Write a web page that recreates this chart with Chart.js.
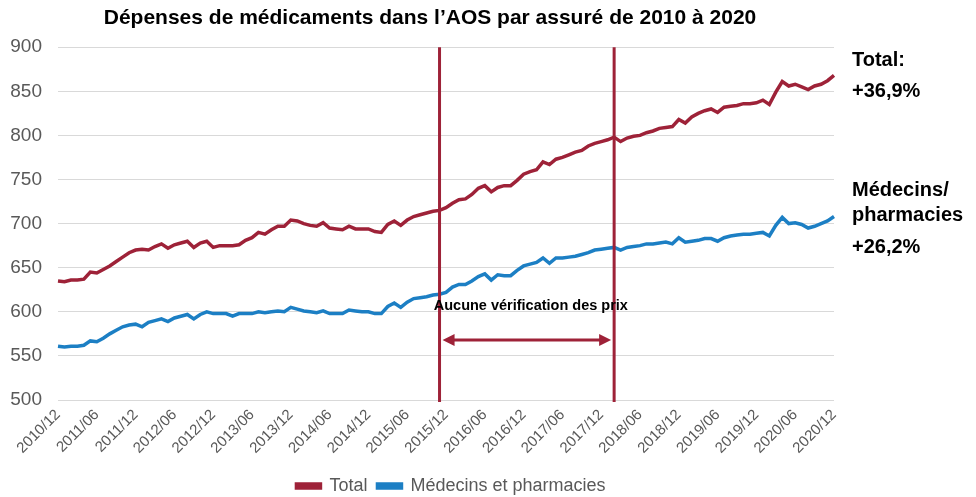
<!DOCTYPE html>
<html>
<head>
<meta charset="utf-8">
<script src="https://cdn.jsdelivr.net/npm/chart.js@4.4.0/dist/chart.umd.min.js"></script>
<style>
    html, body { margin: 0; padding: 0; background: #fff; }
    #wrap { width: 976px; height: 497px; position: relative; }
</style>
</head>
<body>
<div id="wrap"><canvas id="drugChart"></canvas></div>
<script>
// Monthly categories, 2010/12 .. 2020/12
var months = [];
for (var yr = 2010; yr <= 2020; yr++) {
    for (var mo = 1; mo <= 12; mo++) {
        if (yr === 2010 && mo < 12) continue;
        months.push(yr + '/' + (mo < 10 ? '0' + mo : mo));
    }
}

// Only these labels are printed on the x axis
var tickLabels = ['2010/12', '2011/06', '2011/12', '2012/06', '2012/12', '2013/06', '2013/12',
    '2014/06', '2014/12', '2015/06', '2015/12', '2016/06', '2016/12', '2017/06', '2017/12',
    '2018/06', '2018/12', '2019/06', '2019/12', '2020/06', '2020/12'];

// Expenses per insured person (CHF)
var totalValues = [
    635, 634, 636, 636, 637, 645, 644, 648, 652, 657,
    662, 667, 670, 671, 670, 674, 677, 672, 676, 678,
    680, 673, 678, 680, 673, 675, 675, 675, 676, 681,
    684, 690, 688, 693, 697, 697, 704, 703, 700, 698,
    697, 701, 695, 694, 693, 697, 694, 694, 694, 691,
    690, 699, 703, 698, 704, 708, 710, 712, 714, 715,
    718, 723, 727, 728, 733, 740, 743, 736, 741, 743,
    743, 749, 756, 759, 761, 770, 767, 773, 775, 778,
    781, 783, 788, 791, 793, 795, 798, 793, 797, 799,
    800, 803, 805, 808, 809, 810, 818, 814, 821, 825,
    828, 830, 826, 832, 833, 834, 836, 836, 837, 840,
    835, 849, 861, 856, 858, 855, 852, 856, 858, 862,
    868
];
var medPharmValues = [
    561, 560, 561, 561, 562, 567, 566, 570, 575, 579,
    583, 585, 586, 583, 588, 590, 592, 589, 593, 595,
    597, 592, 597, 600, 598, 598, 598, 595, 598, 598,
    598, 600, 599, 600, 601, 600, 605, 603, 601, 600,
    599, 601, 598, 598, 598, 602, 601, 600, 600, 598,
    598, 606, 610, 605, 611, 615, 616, 617, 619, 620,
    622, 628, 631, 631, 635, 640, 643, 636, 642, 641,
    641, 647, 652, 654, 656, 661, 655, 661, 661, 662,
    663, 665, 667, 670, 671, 672, 673, 670, 673, 674,
    675, 677, 677, 678, 679, 677, 684, 679, 680, 681,
    683, 683, 680, 684, 686, 687, 688, 688, 689, 690,
    686, 698, 707, 700, 701, 699, 695, 697, 700, 703,
    708
];

// Period without price checks
var checkStart = '2015/11';
var checkEnd = '2018/02';
var arrowLevel = 568;
var noteLevel = 607;

var redColor = '#9e2238';
var blueColor = '#1c7fc4';
var fontFamily = "'Liberation Sans', Arial, sans-serif";

Chart.defaults.font.family = fontFamily;

// vertical markers, arrow and side notes
var notesPlugin = {
    id: 'notes',
    afterLayout: function (chart) {
        chart.legend.left += 30; chart.legend.right += 30;
        chart.legend.top += 8; chart.legend.bottom += 8;
        chart.titleBlock.left += 9; chart.titleBlock.right += 9;
    },
    afterDatasetsDraw: function (chart) {
        var ctx = chart.ctx, xs = chart.scales.x, ys = chart.scales.y, area = chart.chartArea;
        var x1 = xs.getPixelForValue(months.indexOf(checkStart));
        var x2 = xs.getPixelForValue(months.indexOf(checkEnd));
        ctx.save();
        ctx.strokeStyle = redColor;
        ctx.fillStyle = redColor;
        ctx.lineWidth = 3;
        [x1, x2].forEach(function (px) {
            ctx.beginPath();
            ctx.moveTo(px, area.top);
            ctx.lineTo(px, area.bottom + 2);
            ctx.stroke();
        });

        // double arrow
        var ay = ys.getPixelForValue(arrowLevel);
        var a1 = x1 + 3, a2 = x2 - 3;
        ctx.beginPath();
        ctx.moveTo(a1 + 8, ay);
        ctx.lineTo(a2 - 8, ay);
        ctx.stroke();
        ctx.beginPath();
        ctx.moveTo(a1, ay); ctx.lineTo(a1 + 12, ay - 6); ctx.lineTo(a1 + 12, ay + 6); ctx.closePath();
        ctx.fill();
        ctx.beginPath();
        ctx.moveTo(a2, ay); ctx.lineTo(a2 - 12, ay - 6); ctx.lineTo(a2 - 12, ay + 6); ctx.closePath();
        ctx.fill();

        ctx.fillStyle = '#000';
        ctx.font = 'bold 14.5px ' + fontFamily;
        ctx.textAlign = 'center';
        ctx.textBaseline = 'middle';
        ctx.fillText('Aucune vérification des prix', (x1 + x2) / 2 + 4, ys.getPixelForValue(noteLevel));

        // side notes
        var tx = area.right + 18;
        ctx.textAlign = 'left';
        ctx.font = 'bold 20px ' + fontFamily;
        ctx.fillText('Total:', tx, 60);
        ctx.fillText('+36,9%', tx, 91);
        ctx.fillText('Médecins/', tx, 190);
        ctx.fillText('pharmacies', tx, 215);
        ctx.fillText('+26,2%', tx, 247);
        ctx.restore();
    }
};

var chart = new Chart(document.getElementById('drugChart').getContext('2d'), {
    type: 'line',
    data: {
        labels: months,
        datasets: [{
            label: 'Total',
            data: totalValues,
            borderColor: redColor,
            backgroundColor: redColor,
            borderWidth: 3.5,
            pointRadius: 0,
            tension: 0
        }, {
            label: 'Médecins et pharmacies',
            data: medPharmValues,
            borderColor: blueColor,
            backgroundColor: blueColor,
            borderWidth: 3.5,
            pointRadius: 0,
            tension: 0
        }]
    },
    options: {
        responsive: true,
        maintainAspectRatio: false,
        animation: false,
        layout: { padding: { left: 8, right: 142, top: 0, bottom: 0 } },
        plugins: {
            title: {
                display: true,
                text: 'Dépenses de médicaments dans l’AOS par assuré de 2010 à 2020',
                color: '#000',
                font: { size: 21, weight: 'bold' },
                padding: { top: 6, bottom: 16 }
            },
            legend: {
                position: 'bottom',
                labels: { boxWidth: 24, boxHeight: 4, color: '#595959', font: { size: 18 }, padding: 10 }
            },
            tooltip: { enabled: false }
        },
        scales: {
            x: {
                grid: { display: false, drawTicks: false },
                border: { display: false },
                ticks: {
                    autoSkip: false,
                    minRotation: 45,
                    maxRotation: 45,
                    color: '#595959',
                    font: { size: 15 },
                    padding: 6,
                    callback: function (value, index) {
                        return tickLabels.indexOf(months[index]) >= 0 ? months[index] : '';
                    }
                },
                afterFit: function (scale) { scale.height = 59; }
            },
            y: {
                min: 500,
                max: 900,
                ticks: { stepSize: 50, color: '#595959', font: { size: 19 }, padding: 16 },
                grid: { color: '#d9d9d9', drawTicks: false },
                border: { display: false },
                afterFit: function (scale) { scale.width = 50; }
            }
        }
    },
    plugins: [notesPlugin]
});
</script>
</body>
</html>
